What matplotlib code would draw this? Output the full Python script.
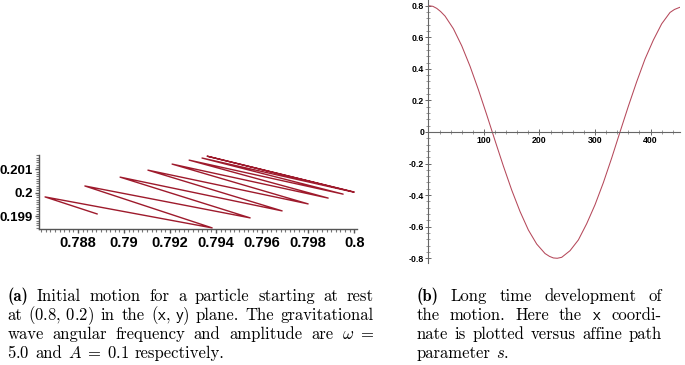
import matplotlib
matplotlib.use("Agg")
import matplotlib.pyplot as plt
from matplotlib.ticker import MultipleLocator

plt.rcParams['mathtext.fontset'] = 'cm'
plt.rcParams['axes.unicode_minus'] = False

# (a) trajectory in the (x, y) plane, turning points
traj_x = [0.80000, 0.79361, 0.79996, 0.79339, 0.79952, 0.79283, 0.79887, 0.79209,
          0.79800, 0.79104, 0.79687, 0.78983, 0.79548, 0.78830, 0.79383, 0.78657, 0.78883]
traj_y = [0.20003, 0.20157, 0.20003, 0.20149, 0.19994, 0.20140, 0.19977, 0.20123,
          0.19952, 0.20097, 0.19922, 0.20067, 0.19892, 0.20029, 0.19849, 0.19982, 0.19909]
a_xticks = [0.788, 0.790, 0.792, 0.794, 0.796, 0.798, 0.800]
a_xlabels = ['0.788', '0.79', '0.792', '0.794', '0.796', '0.798', '0.8']
a_yticks = [0.199, 0.200, 0.201]
a_ylabels = ['0.199', '0.2', '0.201']

# (b) x coordinate versus affine parameter s
s_vals = [0, 8, 15, 22, 30, 45, 60, 75, 90, 105, 120, 135, 150, 165, 180, 195, 210, 218,
          225, 232, 240, 255, 270, 285, 300, 315, 330, 345, 360, 375, 390, 405, 420,
          435, 443, 450, 453]
x_vals = [0.800, 0.796, 0.783, 0.763, 0.734, 0.654, 0.546, 0.416, 0.268, 0.109, -0.055,
          -0.216, -0.368, -0.504, -0.621, -0.710, -0.770, -0.788, -0.798, -0.800, -0.794,
          -0.752, -0.684, -0.581, -0.461, -0.321, -0.165, 0.000, 0.163, 0.318, 0.462,
          0.582, 0.685, 0.757, 0.776, 0.786, 0.790]
b_xticks = [100, 200, 300, 400]
b_xlabels = ['100', '200', '300', '400']
b_yticks = [0.8, 0.6, 0.4, 0.2, 0, -0.2, -0.4, -0.6, -0.8]
b_ylabels = ['0.8', '0.6', '0.4', '0.2', '0', '-0.2', '-0.4', '-0.6', '-0.8']

W, H = 685, 365
fig = plt.figure(figsize=(W / 100, H / 100), dpi=100)

tick_font = dict(family='Liberation Sans', weight='bold')

# ---- panel (a)
ax1 = fig.add_axes([39.3 / W, 1 - 229.3 / H, (356.7 - 39.3) / W, (229.3 - 155) / H])
ax1.plot(traj_x, traj_y, color='#9e1a2c', lw=1.0)
ax1.set_xlim(0.78632, 0.80011)
ax1.set_ylim(0.19843, 0.20162)
for side in ['top', 'right']:
    ax1.spines[side].set_visible(False)
for side in ['left', 'bottom']:
    ax1.spines[side].set_color('#555555')
    ax1.spines[side].set_linewidth(1.0)
ax1.set_xticks(a_xticks)
ax1.set_xticklabels(a_xlabels, fontsize=10.5, **tick_font)
ax1.set_yticks(a_yticks)
ax1.set_yticklabels(a_ylabels, fontsize=9.5, **tick_font)
ax1.xaxis.set_minor_locator(MultipleLocator(0.0002))
ax1.yaxis.set_minor_locator(MultipleLocator(0.0001))
ax1.tick_params(which='major', direction='out', length=3, width=1, color='#555555', pad=1.5)
ax1.tick_params(which='minor', direction='out', length=2, width=0.8, color='#777777')

# ---- panel (b)
ax2 = fig.add_axes([428.4 / W, 1 - 263 / H, (680 - 428.4) / W, 263 / H])
ax2.plot(s_vals, x_vals, color='#b5485a', lw=0.75)
ax2.set_xlim(0, 453)
ax2.set_ylim(-0.83, 0.836)
for side in ['top', 'right']:
    ax2.spines[side].set_visible(False)
ax2.spines['bottom'].set_position(('data', 0))
for side in ['left', 'bottom']:
    ax2.spines[side].set_color('#666666')
    ax2.spines[side].set_linewidth(0.8)
ax2.set_xticks(b_xticks)
ax2.set_xticklabels(b_xlabels, fontsize=6.3, **tick_font)
ax2.set_yticks(b_yticks)
ax2.set_yticklabels(b_ylabels, fontsize=6.3, **tick_font)
ax2.xaxis.set_minor_locator(MultipleLocator(20))
ax2.yaxis.set_minor_locator(MultipleLocator(0.04))
ax2.tick_params(which='major', direction='inout', length=4, width=0.7, color='#666666', pad=1)
ax2.tick_params(which='minor', direction='inout', length=2.5, width=0.6, color='#888888')

# ---- captions, justified word by word
FS = 12
renderer = fig.canvas.get_renderer()


def put_line(words, x0, x1, ybase, justify):
    texts = []
    for w in words:
        fam = 'cmb10' if w == '(a)' or w == '(b)' else 'cmr10'
        texts.append(fig.text(0, 0, w, fontsize=FS, family=fam, ha='left', va='baseline'))
    widths = [t.get_window_extent(renderer).width for t in texts]
    if justify and len(words) > 1:
        gap = (x1 - x0 - sum(widths)) / (len(words) - 1)
    else:
        gap = 0.33 * FS * 100 / 72
    x = x0
    for t, w in zip(texts, widths):
        t.set_position((x / W, 1 - ybase / H))
        x += w + gap


cap_a = [
    ['(a)', 'Initial', 'motion', 'for', 'a', 'particle', 'starting', 'at', 'rest'],
    ['at', r'$(0.8,\,0.2)$', 'in', 'the', r'$(\mathsf{x},\,\mathsf{y})$', 'plane.', 'The', 'gravitational'],
    ['wave', 'angular', 'frequency', 'and', 'amplitude', 'are', r'$\omega\ =$'],
    [r'$5.0$', 'and', r'$A\;=\;0.1$', 'respectively.'],
]
cap_b = [
    ['(b)', 'Long', 'time', 'development', 'of'],
    ['the', 'motion.', 'Here', 'the', r'$\mathsf{x}$', 'coordi-'],
    ['nate', 'is', 'plotted', 'versus', 'affine', 'path'],
    ['parameter', r'$s$.'],
]
baselines = [301.0, 320.0, 339.0, 358.0]
for i, line in enumerate(cap_a):
    put_line(line, 7.3, 374, baselines[i], i < 3)
for i, line in enumerate(cap_b):
    put_line(line, 416.5, 662, baselines[i], i < 3)

fig.savefig('out.png', dpi=100)
